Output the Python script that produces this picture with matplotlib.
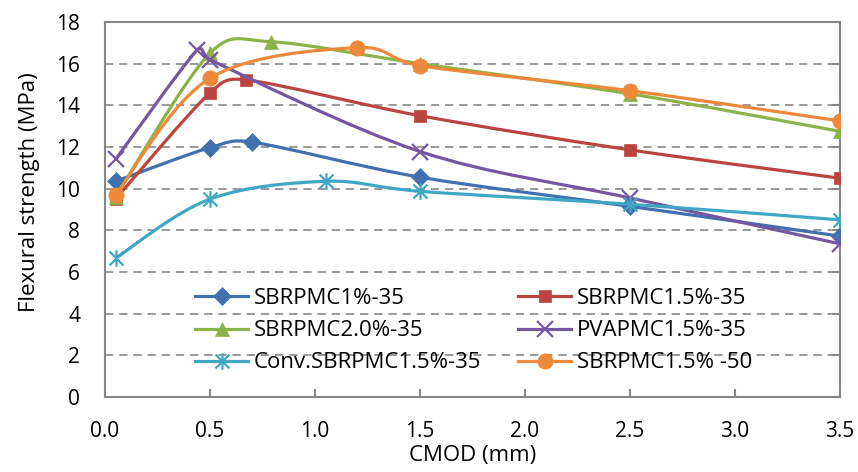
import numpy as np
import matplotlib
matplotlib.use('Agg')
import matplotlib.pyplot as plt
from matplotlib.path import Path
from matplotlib.patches import PathPatch
from matplotlib.lines import Line2D

plt.rcParams['font.family'] = ['Open Sans', 'DejaVu Sans']

# flexural strength (MPa) vs CMOD (mm) for each mix
labels = ['SBRPMC1%-35', 'SBRPMC1.5%-35', 'SBRPMC2.0%-35',
          'PVAPMC1.5%-35', 'Conv.SBRPMC1.5%-35', 'SBRPMC1.5% -50']
cmod_sbr1 = [0.05, 0.5, 0.7, 1.5, 2.5, 3.5]
fs_sbr1 = [10.35, 11.97, 12.23, 10.55, 9.15, 7.72]
cmod_sbr15 = [0.05, 0.5, 0.67, 1.5, 2.5, 3.5]
fs_sbr15 = [9.5, 14.6, 15.22, 13.5, 11.86, 10.5]
cmod_sbr20 = [0.05, 0.5, 0.79, 1.5, 2.5, 3.5]
fs_sbr20 = [9.6, 16.5, 17.05, 16.0, 14.55, 12.75]
cmod_pva = [0.05, 0.44, 0.5, 1.5, 2.5, 3.5]
fs_pva = [11.4, 16.66, 16.18, 11.78, 9.55, 7.35]
cmod_conv = [0.05, 0.5, 1.05, 1.5, 2.5, 3.5]
fs_conv = [6.66, 9.5, 10.35, 9.87, 9.25, 8.5]
cmod_sbr15_50 = [0.05, 0.5, 1.2, 1.5, 2.5, 3.5]
fs_sbr15_50 = [9.7, 15.3, 16.77, 15.9, 14.7, 13.25]

xs = [cmod_sbr1, cmod_sbr15, cmod_sbr20, cmod_pva, cmod_conv, cmod_sbr15_50]
ys = [fs_sbr1, fs_sbr15, fs_sbr20, fs_pva, fs_conv, fs_sbr15_50]

colors = ['#4170AE', '#BA443F', '#8CB24A', '#7457A0', '#3FA7C3', '#EE883A']

# six-armed asterisk (x plus vertical bar)
star = Path([(-0.5, -0.5), (0.5, 0.5), (-0.5, 0.5), (0.5, -0.5), (0, -0.6), (0, 0.6)],
            [Path.MOVETO, Path.LINETO, Path.MOVETO, Path.LINETO, Path.MOVETO, Path.LINETO])
markers = ['D', 's', '^', 'x', star, 'o']
msizes = [9, 8.5, 10, 11, 12, 11]


def smooth_path(ax, x, y):
    # cardinal spline as cubic Beziers, built in pixel space so the
    # control arms can be capped at half the neighbouring segment length
    p = ax.transData.transform(np.column_stack([x, y]))
    n = len(p)
    fwd, bwd = [], []
    for i in range(n):
        p0 = p[i - 1] if i > 0 else p[i]
        p2 = p[i + 1] if i + 1 < n else p[i]
        t = (p2 - p0) / 6
        L = np.hypot(*t)
        d_next = np.hypot(*(p2 - p[i]))
        d_prev = np.hypot(*(p[i] - p0))
        sf = min(1, d_next / 2 / L) if L > 0 else 0
        sb = min(1, d_prev / 2 / L) if L > 0 else 0
        fwd.append(p[i] + t * sf)
        bwd.append(p[i] - t * sb)
    verts = [p[0]]
    codes = [Path.MOVETO]
    for i in range(n - 1):
        verts += [fwd[i], bwd[i + 1], p[i + 1]]
        codes += [Path.CURVE4] * 3
    verts = ax.transData.inverted().transform(np.array(verts))
    return Path(verts, codes)


fig = plt.figure(figsize=(8.58, 4.72), dpi=100)
ax = fig.add_axes([0.1224, 0.159, 0.8566, 0.7945])
ax.set_xlim(0, 3.5)
ax.set_ylim(0, 18)

handles = []
for k in range(len(labels)):
    z = 3 + k
    ax.add_patch(PathPatch(smooth_path(ax, xs[k], ys[k]), fill=False,
                           edgecolor=colors[k], lw=2.3, zorder=z))
    mew = 1.6 if k in (3, 4) else 0.5
    ax.plot(xs[k], ys[k], ls='none', marker=markers[k], ms=msizes[k],
            color=colors[k], mec=colors[k], mew=mew, zorder=z)
    handles.append(Line2D([], [], color=colors[k], lw=2.3, marker=markers[k],
                          ms=msizes[k], mec=colors[k], mew=mew))

ax.set_xticks(np.arange(0, 3.51, 0.5))
ax.set_xticklabels([f'{v:.1f}' for v in np.arange(0, 3.51, 0.5)])
ax.set_yticks(np.arange(0, 18.1, 2))

for s in ax.spines.values():
    s.set_color('#878787')
    s.set_linewidth(1.5)

ax.tick_params(axis='y', left=False, right=True, labelleft=True, labelright=False,
               direction='in', length=6, width=1.5, color='#878787', pad=18, labelsize=15)
ax.tick_params(axis='x', direction='in', length=5.5, width=1.5, color='#878787',
               pad=17, labelsize=15)

ax.yaxis.grid(True, color='#878787', lw=1.2, linestyle=(0, (5, 3.5)))
ax.set_axisbelow(True)

ax.set_xlabel('CMOD (mm)', fontsize=16)
ax.set_ylabel('Flexural strength (MPa)', fontsize=16)
ax.xaxis.set_label_coords(0.5, -0.128)
ax.yaxis.set_label_coords(-0.088, 0.547)

# legend filled row by row: left column 0,2,4 / right column 1,3,5
order = [0, 2, 4, 1, 3, 5]
leg = ax.legend([handles[i] for i in order], [labels[i] for i in order],
                ncol=2, frameon=False, fontsize=16,
                loc='upper left', bbox_to_anchor=(0.1224, 0.29),
                handlelength=2.4, handletextpad=0.25, columnspacing=1.65,
                labelspacing=0.5, borderpad=0, borderaxespad=0, numpoints=1)
for h in leg.legend_handles:
    h.set_zorder(10)

fig.savefig('out.png', dpi=100)
